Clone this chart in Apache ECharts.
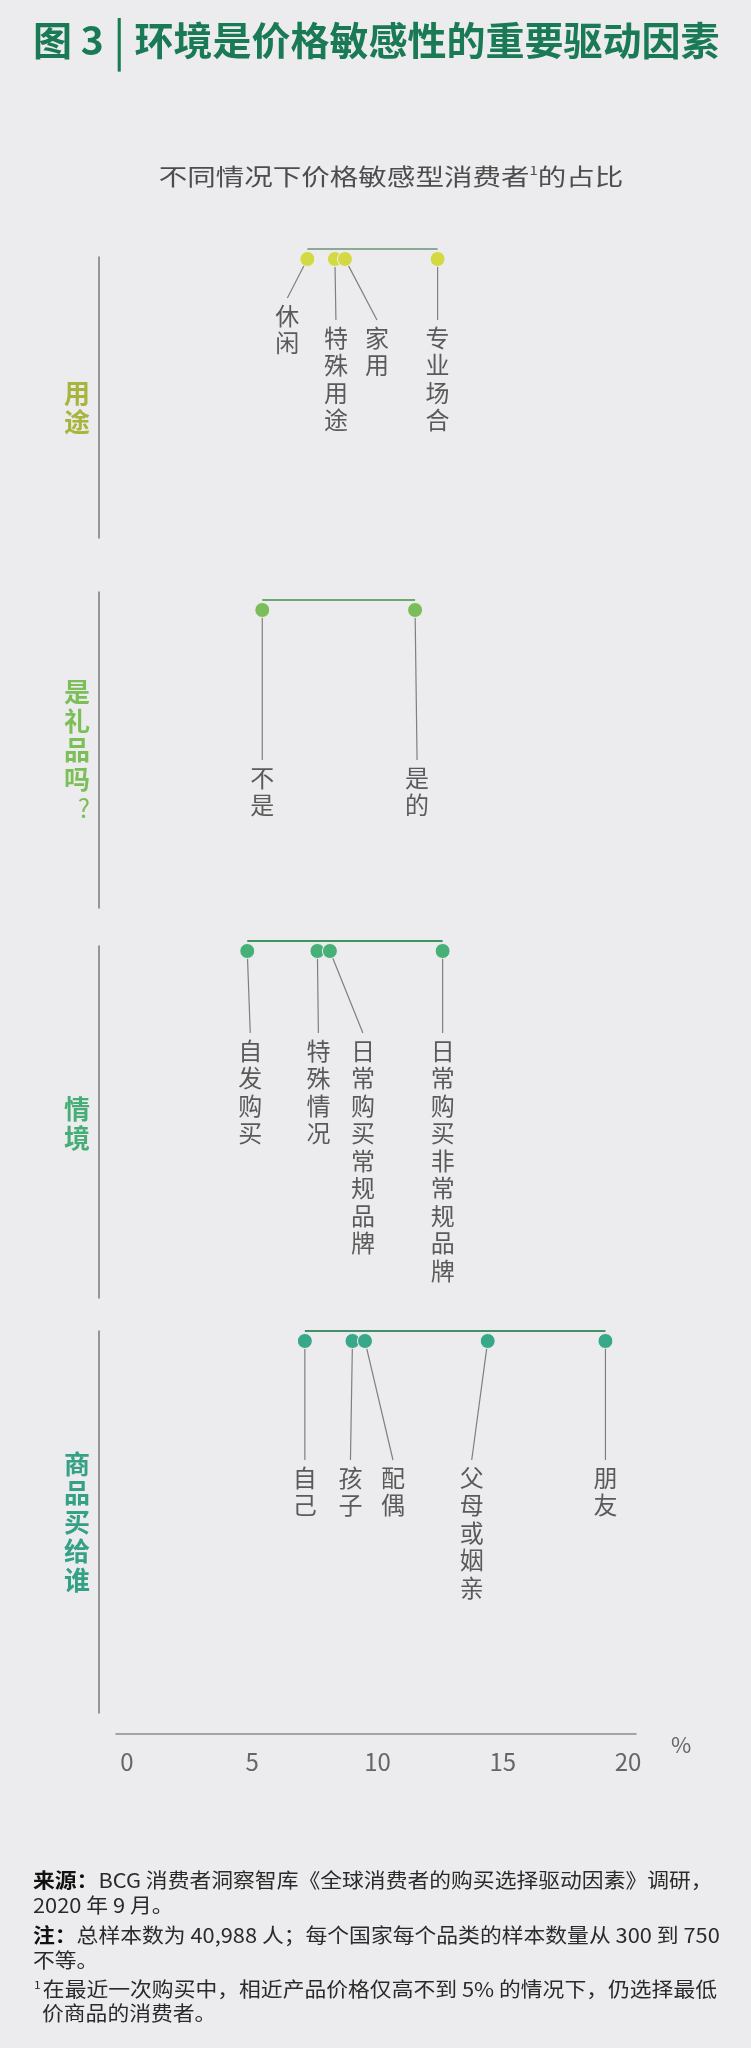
<!DOCTYPE html>
<html lang="zh-CN">
<head>
<meta charset="UTF-8">
<title>环境是价格敏感性的重要驱动因素</title>
<script src="https://cdn.jsdelivr.net/npm/echarts@6.0.0/dist/echarts.min.js"></script>
<style>
html, body { margin: 0; padding: 0; background: #ececee; }
#main { width: 751px; height: 2048px; }
</style>
</head>
<body>
<div id="main"></div>
<script>
// ---- 数据 ----
var xTicks = [0, 5, 10, 15, 20];
var groupNames = ['用途', '是礼品吗', '情境', '商品买给谁'];

var useLabels = ['休闲', '特殊用途', '家用', '专业场合'];
var useValues = [7.2, 8.3, 8.7, 12.4];

var giftLabels = ['不是', '是的'];
var giftValues = [5.4, 11.5];

var sceneLabels = ['自发购买', '特殊情况', '日常购买常规品牌', '日常购买非常规品牌'];
var sceneValues = [4.8, 7.6, 8.1, 12.6];

var forLabels = ['自己', '孩子', '配偶', '父母或姻亲', '朋友'];
var forValues = [7.1, 9.0, 9.5, 14.4, 19.1];

// ---- 版式 ----
var FONT = 'Noto Sans CJK SC';
var groupTop = [257, 592, 946, 1331];
var groupHeight = [281, 316, 352, 382];
var dotPad = [2, 18, 5, 10];          // 点到分组竖线顶端的距离
var nameShift = [20, 0, 4, 0];
var dotColor = ['#d3d942', '#7cbd5b', '#46b077', '#38a78a'];
var barColor = ['#8aa996', '#6aa96f', '#3c955d', '#458f6b'];
var nameColor = ['#a8b43b', '#7cbf58', '#46ad77', '#34a085'];
var labelDx = [[-20, 1, 32, 0], [0, 2], [3, 1, 33, 0], [0, -2, 28, -16, 0]];
var labelDrop = [[39, 61, 61, 61], [150, 150], [82, 82, 82, 82], [119, 119, 119, 119, 119]];

var groups = [
    {labels: useLabels, values: useValues},
    {labels: giftLabels, values: giftValues},
    {labels: sceneLabels, values: sceneValues},
    {labels: forLabels, values: forValues}
];

var grids = [], xAxes = [], yAxes = [], series = [];

groups.forEach(function (g, i) {
    var last = i === groups.length - 1;
    grids.push({left: 116, right: 115, top: groupTop[i], height: groupHeight[i], outerBoundsMode: 'none'});

    xAxes.push({
        gridIndex: i,
        type: 'value',
        min: -0.44,
        max: 20.32,
        show: last,
        offset: last ? 21 : 0,
        axisLine: {onZero: false, lineStyle: {color: '#8a8a8a', width: 1.5}},
        axisTick: {show: false},
        splitLine: {show: false},
        axisLabel: {
            customValues: xTicks,
            margin: 16,
            color: '#666',
            fontSize: 24,
            fontFamily: FONT
        },
        name: last ? '%' : '',
        nameLocation: 'end',
        nameGap: 35,
        nameTextStyle: {color: '#666', fontSize: 22, verticalAlign: 'top', fontFamily: FONT}
    });

    var nm = groupNames[i].split('').join('\n');
    if (i === 1) nm += '\n{q|?}';
    yAxes.push({
        gridIndex: i,
        type: 'value',
        inverse: true,
        min: -dotPad[i],
        max: groupHeight[i] - dotPad[i],
        offset: 17,
        axisLine: {show: true, onZero: false, lineStyle: {color: '#7a7a7a', width: 1.5}},
        axisTick: {show: false},
        axisLabel: {show: false},
        splitLine: {show: false},
        name: nm,
        nameLocation: 'middle',
        nameRotate: 0,
        nameGap: 9,
        nameTextStyle: {
            color: nameColor[i],
            fontSize: 26,
            fontWeight: 'bold',
            lineHeight: 29,
            fontFamily: FONT,
            padding: [nameShift[i], 0, 0, 0],
            rich: {
                q: {color: nameColor[i], fontSize: 26, fontWeight: 'normal', fontFamily: FONT, lineHeight: 29, padding: [0, 0, 0, 12]}
            }
        }
    });

    // 最低到最高的横条
    var lo = Math.min.apply(null, g.values);
    var hi = Math.max.apply(null, g.values);
    series.push({
        type: 'line',
        xAxisIndex: i,
        yAxisIndex: i,
        data: [[lo, -10], [hi, -10]],
        symbol: 'none',
        clip: false,
        silent: true,
        z: 1,
        lineStyle: {color: barColor[i], width: 2}
    });

    series.push({
        type: 'scatter',
        xAxisIndex: i,
        yAxisIndex: i,
        data: g.values.map(function (v) { return [v, 0]; }),
        symbolSize: 15,
        z: 3,
        itemStyle: {color: dotColor[i], borderColor: '#eef0ee', borderWidth: 1, opacity: 1},
        label: {
            show: true,
            formatter: function (p) { return g.labels[p.dataIndex].split('').join('\n'); },
            fontSize: 24,
            lineHeight: 27.5,
            color: '#5a5a5a',
            padding: [4, 0, 0, 0],
            fontFamily: FONT
        },
        labelLine: {show: true, lineStyle: {color: '#7f7f7f', width: 1.2}},
        labelLayout: function (p) {
            return {
                x: p.rect.x + p.rect.width / 2 + labelDx[i][p.dataIndex],
                y: p.rect.y + p.rect.height / 2 + labelDrop[i][p.dataIndex],
                align: 'center',
                verticalAlign: 'top'
            };
        }
    });
});

var chart = echarts.init(document.getElementById('main'));
chart.setOption({
    animation: false,
    backgroundColor: '#ececee',
    title: {
        text: '图 3 {bar||} 环境是价格敏感性的重要驱动因素',
        left: 33,
        top: 16,
        padding: 0,
        textStyle: {
            color: '#1b7a56',
            fontSize: 39,
            fontWeight: 'bold',
            fontFamily: FONT,
            lineHeight: 48,
            rich: {
                bar: {color: '#1b7a56', fontSize: 48, fontWeight: 'normal', fontFamily: FONT, lineHeight: 48}
            }
        }
    },
    grid: grids,
    xAxis: xAxes,
    yAxis: yAxes,
    series: series,
    graphic: [
        {
            type: 'text', x: 391, y: 176, scaleX: 1.24,
            style: {
                text: '不同情况下价格敏感型消费者{sup|1}的占比',
                fontSize: 23, fontFamily: FONT, fill: '#4d4d4d',
                align: 'center', verticalAlign: 'middle',
                rich: {sup: {fontSize: 12, fontFamily: FONT, fill: '#4d4d4d', verticalAlign: 'top'}}
            }
        },
        {
            type: 'text', x: 33, y: 1880, scaleX: 1.09,
            style: {
                text: '{b|来源：}BCG 消费者洞察智库《全球消费者的购买选择驱动因素》调研，',
                fontSize: 20, fontFamily: FONT, fill: '#2a2a2a', verticalAlign: 'middle',
                rich: {b: {fontSize: 20, fontFamily: FONT, fontWeight: 'bold', fill: '#111'}}
            }
        },
        {
            type: 'text', x: 33, y: 1905, scaleX: 1.09,
            style: {text: '2020 年 9 月。', fontSize: 20, fontFamily: FONT, fill: '#2a2a2a', verticalAlign: 'middle'}
        },
        {
            type: 'text', x: 33, y: 1935, scaleX: 1.09,
            style: {
                text: '{b|注：}总样本数为 40,988 人；每个国家每个品类的样本数量从 300 到 750',
                fontSize: 20, fontFamily: FONT, fill: '#2a2a2a', verticalAlign: 'middle',
                rich: {b: {fontSize: 20, fontFamily: FONT, fontWeight: 'bold', fill: '#111'}}
            }
        },
        {
            type: 'text', x: 33, y: 1960, scaleX: 1.09,
            style: {text: '不等。', fontSize: 20, fontFamily: FONT, fill: '#2a2a2a', verticalAlign: 'middle'}
        },
        {
            type: 'text', x: 34, y: 1989, scaleX: 1.09,
            style: {
                text: '{s|1}在最近一次购买中，相近产品价格仅高不到 5% 的情况下，仍选择最低',
                fontSize: 20, fontFamily: FONT, fill: '#2a2a2a', verticalAlign: 'middle',
                rich: {s: {fontSize: 11, fontFamily: FONT, fill: '#2a2a2a', verticalAlign: 'top', padding: [0, 2, 0, 0]}}
            }
        },
        {
            type: 'text', x: 42, y: 2013, scaleX: 1.09,
            style: {text: '价商品的消费者。', fontSize: 20, fontFamily: FONT, fill: '#2a2a2a', verticalAlign: 'middle'}
        }
    ]
});
</script>
</body>
</html>
